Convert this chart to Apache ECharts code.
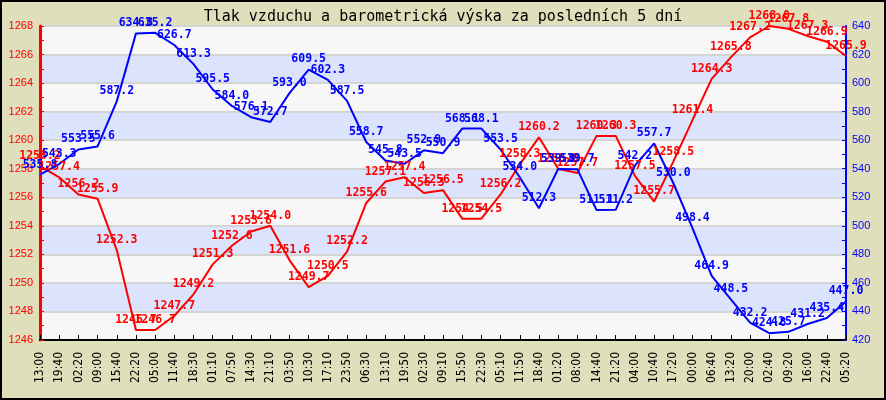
<!DOCTYPE html>
<html>
<head>
<meta charset="utf-8">
<script src="https://cdn.jsdelivr.net/npm/echarts@6/dist/echarts.min.js"></script>
<style>
html,body{margin:0;padding:0;background:#e0dfbb;}
#c{width:886px;height:400px;}
</style>
</head>
<body>
<div id="c"></div>
<script>
const titleText = 'Tlak vzduchu a barometrická výska za posledních 5 dní';
const times = ['13:00','19:40','02:20','09:00','15:40','22:20','05:00','11:40','18:30','01:10','07:50','14:30','21:10','03:50','10:30','17:10','23:50','06:30','13:10','19:50','02:30','09:10','15:50','22:30','05:10','11:50','18:40','01:20','08:00','14:40','21:20','04:00','10:40','17:20','00:00','06:40','13:20','20:00','02:40','09:20','16:00','22:40','05:20'];
const pressure = [1258.2,1257.4,1256.2,1255.9,1252.3,1246.7,1246.7,1247.7,1249.2,1251.3,1252.6,1253.6,1254.0,1251.6,1249.7,1250.5,1252.2,1255.6,1257.1,1257.4,1256.3,1256.5,1254.5,1254.5,1256.2,1258.3,1260.2,1258.0,1257.7,1260.3,1260.3,1257.5,1255.7,1258.5,1261.4,1264.3,1265.8,1267.2,1268.0,1267.8,1267.3,1266.9,1265.9];
const altitude = [535.8,543.3,553.5,555.6,587.2,634.8,635.2,626.7,613.3,595.5,584.0,576.1,572.7,593.0,609.5,602.3,587.5,558.7,545.8,543.5,552.9,550.9,568.1,568.1,553.5,534.0,512.3,539.8,539.7,511.1,511.2,542.2,557.7,530.0,498.4,464.9,448.5,432.2,424.8,425.7,431.2,435.4,447.0];
const leftTicks = {min:1246, max:1268, interval:2};
const rightTicks = {min:420, max:640, interval:20};

const chart = echarts.init(document.getElementById('c'), null, {renderer:'canvas'});
const labelFont = {fontFamily:'DejaVu Sans Mono', fontWeight:'bold', fontSize:11.5};
chart.setOption({
  backgroundColor:'#e0dfbb',
  animation:false,
  title:{text:titleText, left:'center', top:5,
    textStyle:{fontFamily:'DejaVu Sans Mono', fontSize:15, fontWeight:'normal', color:'#000'}},
  graphic:[{type:'rect', shape:{x:1,y:1,width:884,height:398}, style:{fill:'none', stroke:'#000', lineWidth:2}, silent:true}],
  grid:{left:40, right:40, top:26, bottom:60},
  xAxis:{type:'category', data:times, boundaryGap:false,
    axisLine:{lineStyle:{color:'#000', width:2}},
    axisTick:{inside:true, length:5, lineStyle:{color:'#000'}},
    axisLabel:{rotate:90, margin:12, interval:0, color:'#000', fontFamily:'Liberation Sans Narrow, DejaVu Sans Condensed, DejaVu Sans Mono', fontSize:12}},
  yAxis:[{type:'value', min:leftTicks.min, max:leftTicks.max, interval:leftTicks.interval,
    axisLine:{show:true, lineStyle:{color:'#ff0000', width:3}},
    axisTick:{show:true, inside:true, length:4, lineStyle:{color:'#ff0000'}},
    minorTick:{show:true, splitNumber:2, length:4, lineStyle:{color:'#ff0000'}},
    axisLabel:{color:'#ff0000', fontFamily:'Liberation Sans', fontSize:11, margin:7, formatter:v=>String(v)},
    splitLine:{show:true, lineStyle:{color:'#d4d4d4', width:2}},
    splitArea:{show:true, areaStyle:{color:['#f7f7f7','#dce3fc']}}},
   {type:'value', min:rightTicks.min, max:rightTicks.max, interval:rightTicks.interval, position:'right',
    axisLine:{show:true, lineStyle:{color:'#0000ff', width:2}},
    axisTick:{show:true, inside:true, length:4, lineStyle:{color:'#0000ff'}},
    minorTick:{show:true, splitNumber:2, length:4, lineStyle:{color:'#0000ff'}},
    axisLabel:{color:'#0000ff', fontFamily:'Liberation Sans', fontSize:11, margin:6, formatter:v=>String(v)},
    splitLine:{show:false}}],
  series:[
    {type:'line', name:'Tlak', yAxisIndex:0, data:pressure, showSymbol:true, symbol:'circle', symbolSize:0.1,
     itemStyle:{color:'#ff0000'}, lineStyle:{color:'#ff0000', width:2},
     labelLayout:{hideOverlap:false},
     label:{show:true, position:'top', distance:4, color:'#ff0000', ...labelFont, formatter:p=>p.value.toFixed(1)}},
    {type:'line', name:'Výska', yAxisIndex:1, data:altitude, showSymbol:true, symbol:'circle', symbolSize:0.1,
     itemStyle:{color:'#0000ff'}, lineStyle:{color:'#0000ff', width:2},
     labelLayout:{hideOverlap:false},
     label:{show:true, position:'top', distance:4, color:'#0000ff', ...labelFont, formatter:p=>p.value.toFixed(1)}}
  ]
});
</script>
</body>
</html>
